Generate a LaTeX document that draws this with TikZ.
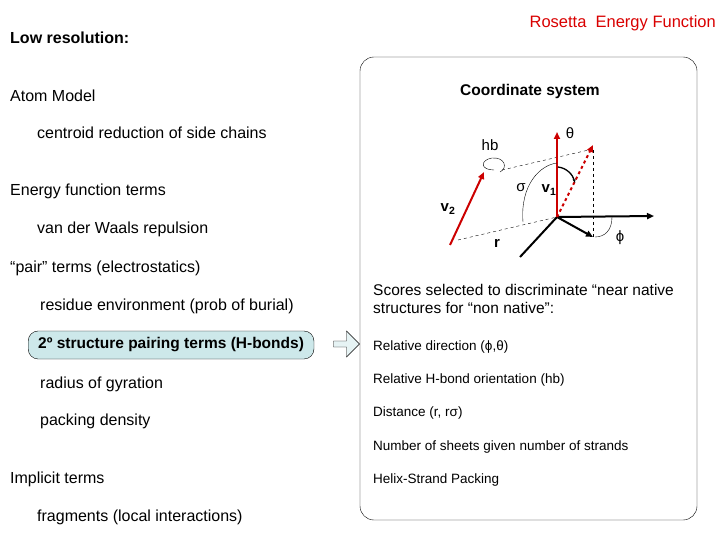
\documentclass[tikz,border=0pt]{standalone}
\usepackage{fontspec}
\setmainfont{Liberation Sans}
\usetikzlibrary{arrows.meta,shapes.arrows}
\definecolor{boxfill}{HTML}{CDE8EA}
\begin{document}
\begin{tikzpicture}[x=1pt,y=-1pt,
  lt/.style={anchor=west,inner sep=0pt,font=\fontsize{16}{18}\selectfont},
  rt/.style={anchor=west,inner sep=0pt,font=\fontsize{13.5}{15}\selectfont},
  dl/.style={inner sep=0pt,font=\fontsize{15}{17}\selectfont},
  red1/.style={draw=red!80!black,line width=2pt,-{Triangle[length=7pt,width=6pt]}},
  blk/.style={draw=black,line width=2pt,-{Triangle[length=7pt,width=6pt]}},
  dsh/.style={dashed,thin}]
\useasboundingbox (0,0) rectangle (720,540);
\node[lt,font=\bfseries\fontsize{16}{18}\selectfont] (lr) at (10,38) {Low resolution:};
\node[anchor=east,inner sep=0pt,text=red!85!black,font=\fontsize{16.5}{18}\selectfont] (ref) at (716,23) {Rosetta\ \ Energy Function};
\node[lt] (am) at (10,96) {Atom Model};
\node[lt] (cr) at (37,133) {centroid reduction of side chains};
\node[lt] (ef) at (10,191) {Energy function terms};
\node[lt] (vdw) at (37,229) {van der Waals repulsion};
\node[lt] (pt) at (10,268) {“pair” terms (electrostatics)};
\node[lt] (re) at (40,306) {residue environment (prob of burial)};
\node[draw,rounded corners=10pt,fill=boxfill,
  font=\bfseries\fontsize{15.5}{17}\selectfont,anchor=west,minimum height=28pt,inner xsep=10pt] (ss) at (28,345) {2º structure pairing terms (H-bonds)};
\node[lt] (rg) at (40,384) {radius of gyration};
\node[lt] (pd) at (40,421) {packing density};
\node[lt] (it) at (10,479) {Implicit terms};
\node[lt] (fr) at (37,517) {fragments (local interactions)};
% frame
\draw[rounded corners=14pt] (360,57) rectangle (697,520);
\node[single arrow,draw,fill=boxfill!50,minimum height=26pt,single arrow head extend=4pt,minimum width=26pt,inner sep=1pt] (ar) at (345,344) {};
\node[inner sep=0pt,font=\bfseries\fontsize{15.5}{17}\selectfont] (cs) at (530,91) {Coordinate system};
\node[rt,font=\fontsize{15.5}{18.5}\selectfont,align=left] (sc) at (373,299) {Scores selected to discriminate “near native\\structures for “non native”:};
\node[rt] (rd) at (373,347) {Relative direction (ϕ,θ)};
\node[rt] (rh) at (373,380) {Relative H-bond orientation (hb)};
\node[rt] (di) at (373,413) {Distance (r, rσ)};
\node[rt] (ns) at (373,447) {Number of sheets given number of strands};
\node[rt] (hp) at (373,480) {Helix-Strand Packing};
% coordinate diagram
\coordinate (o) at (557,217);
\coordinate (v1) at (557,132);
\coordinate (dt) at (593,145);
\coordinate (db) at (593,237);
\coordinate (xr) at (654,216);
\coordinate (ll) at (520,257);
\coordinate (v2a) at (450,245);
\coordinate (v2b) at (484,172);
\draw[dsh] (593,150) -- (db);
\draw[dsh] (458,240) -- (o);
\draw[dsh] (502,170) -- (593,149);
\draw[blk] (o) -- (xr);
\draw[blk] (o) -- (db);
\draw[line width=2pt] (o) -- (ll);
\draw[red1] (o) -- (v1);
\draw[red1,dashed] (o) -- (dt);
\draw[red1] (v2a) -- (v2b);
\draw[thin] (523,222) .. controls (520,185) and (540,165) .. (557,163);
\draw[line width=1.3pt,-{Stealth[length=4pt]}] (558,167) .. controls (567,168) and (573,175) .. (575,183);
\draw[thin] (612,217) .. controls (612,230) and (605,237) .. (595,237);
\draw[thin] (494,170) .. controls (480,170) and (480,160) .. (492,158) .. controls (505,157) and (508,168) .. (500,172);
\node[dl] (hb) at (490,145) {hb};
\node[dl] (th) at (570,133) {θ};
\node[dl] (sg) at (521,188) {σ};
\node[dl,font=\bfseries\fontsize{15}{17}\selectfont] (v1l) at (549,190) {v\textsubscript{1}};
\node[dl,font=\bfseries\fontsize{15}{17}\selectfont] (v2l) at (448,209) {v\textsubscript{2}};
\node[dl,font=\bfseries\fontsize{15}{17}\selectfont] (rl) at (497,243) {r};
\node[dl] (ph) at (620,238) {ϕ};
\end{tikzpicture}
\end{document}
